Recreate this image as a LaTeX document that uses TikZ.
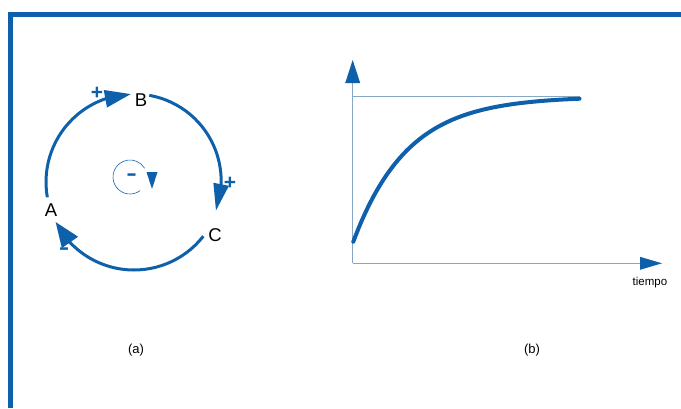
\documentclass[tikz,border=0pt]{standalone}
\usepackage{graphicx}
\usepackage{fontspec}
\setmainfont{Liberation Sans}
\usetikzlibrary{arrows.meta,bending}
\definecolor{mblue}{RGB}{14,96,170}
\definecolor{axblue}{RGB}{135,168,196}
\tikzset{
  loop/.style={mblue, line width=3pt},
  letter/.style={font=\fontsize{18.5}{18.5}\selectfont, text=black, inner sep=0pt},
  sign/.style={font=\fontsize{21}{21}\selectfont\bfseries, text=mblue, inner sep=0pt},
  axis/.style={axblue, line width=1pt},
  caption/.style={font=\fontsize{13}{13}\selectfont, inner sep=0pt},
}
\newcommand{\bigminus}{\scalebox{1.5}[1]{-}}
\begin{document}
\begin{tikzpicture}[x=1pt,y=1pt]
\useasboundingbox (0,0) rectangle (681,-408);
% frame
\draw[mblue, line width=5pt, line join=miter] (10,-408) -- (10,-14.8) -- (681,-14.8);
% (a) loop
\coordinate (O) at (134,-182);
\node[letter] (A) at (51,-210) {A};
\node[letter] (B) at (141,-100) {B};
\node[letter] (C) at (215,-235) {C};
\draw[loop, -{Triangle[length=26pt,width=17pt,flex]}] (O) ++(190:88) arc[start angle=190, end angle=92, radius=88];
\draw[loop, -{Triangle[length=27pt,width=15pt,flex]}] (O) ++(80:88) arc[start angle=80, end angle=-20, radius=87];
\draw[loop, -{Triangle[length=25pt,width=19pt,flex]}] (O) ++(-38:88) arc[start angle=-38, end angle=-153, radius=88];
\node[sign] (p1) at (97,-93) {+};
\node[sign] (p2) at (230,-183) {+};
\node[sign] (m1) at (64,-251) {\bigminus};
% inner balancing loop
\coordinate (I) at (130,-177);
\draw[mblue, line width=0.6pt] (I) ++(-53:17) arc[start angle=-53, end angle=-329, radius=17];
\fill[mblue] (146.5,-172) -- (157.5,-172) -- (152,-189) -- cycle;
\node[sign] (m2) at (131.5,-177) {\bigminus};
% (b) plot
\coordinate (org) at (352.7,-263.3);
\coordinate (ytip) at (352.7,-60);
\coordinate (xtip) at (662,-263.3);
\coordinate (h0) at (352.7,-96.7);
\coordinate (h1) at (580,-96.7);
\draw[axis] (h0) -- (h1);
\draw[axis] (org) -- (352.7,-82);
\fill[mblue] (ytip) -- (345.2,-83) -- (360.2,-83) -- cycle;
\draw[axis] (org) -- (641,-263.3);
\fill[mblue] (xtip) -- (640,-256.8) -- (640,-269.8) -- cycle;
\draw[mblue, line width=4pt, line cap=round] plot[domain=353.3:579.5, samples=80, smooth]
  (\x, {-(96.5 + 145.2*exp(-0.0185*(\x-353.3)))});
\node[font=\fontsize{11.5}{11.5}\selectfont, inner sep=0pt] (t) at (650,-283) {tiempo};
% captions
\node[caption] (ca) at (136,-350) {(a)};
\node[caption] (cb) at (532,-350) {(b)};
\end{tikzpicture}
\end{document}
